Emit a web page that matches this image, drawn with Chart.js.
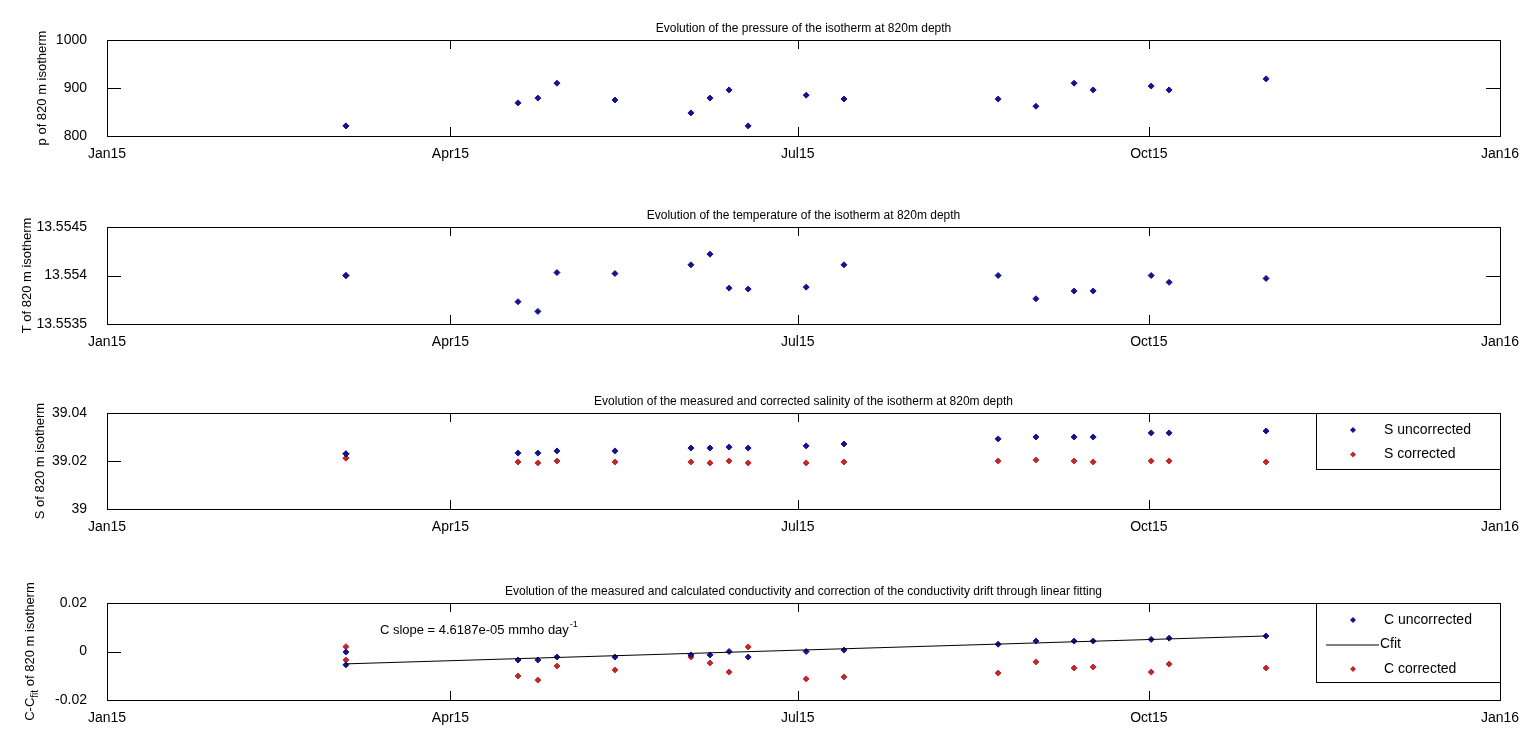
<!DOCTYPE html>
<html>
<head>
<meta charset="utf-8">
<script src="https://cdn.jsdelivr.net/npm/chart.js@4.4.0/dist/chart.umd.min.js"></script>
<style>
  body { margin: 0; background: #fff; width: 1536px; height: 745px; overflow: hidden; position: relative; }
  canvas { position: absolute; left: 0; }
</style>
</head>
<body>
<canvas id="c0"></canvas>
<canvas id="c1"></canvas>
<canvas id="c2"></canvas>
<canvas id="c3"></canvas>
<script>
'use strict';

// days since 1 Jan 2015 for each cast (first date sampled twice)
const days = [62.6, 62.6, 107.7, 112.9, 117.9, 133.1, 153.0, 158.0, 163.0, 168.0,
  183.2, 193.1, 233.5, 243.4, 253.4, 258.4, 273.6, 278.3, 303.7];

const xTickValues = [0, 90, 181, 273, 365];
const xTickLabels = ['Jan15', 'Apr15', 'Jul15', 'Oct15', 'Jan16'];

const pressure = [821, 821, 869, 879, 910, 875, 848, 879, 896, 821,
  885, 877, 877, 862, 910, 896, 904, 896, 919];

const temperature = [13.55400, 13.55400, 13.55373, 13.55363, 13.55403, 13.55402, 13.55411,
  13.55422, 13.55387, 13.55386, 13.55388, 13.55411, 13.55400, 13.55376, 13.55384,
  13.55384, 13.55400, 13.55393, 13.55397];

const salUncorrected = [39.0230, 39.0230, 39.0233, 39.0233, 39.0242, 39.0242, 39.0254, 39.0254,
  39.0258, 39.0254, 39.0263, 39.0271, 39.0292, 39.0300, 39.0300, 39.0300, 39.0317,
  39.0317, 39.0325];
const salCorrected = [39.0212, 39.0212, 39.0196, 39.0192, 39.0200, 39.0196, 39.0196, 39.0192,
  39.0200, 39.0192, 39.0192, 39.0196, 39.0200, 39.0204, 39.0200, 39.0196, 39.0200,
  39.0200, 39.0196];

const condUncorrected = [-0.0002, -0.0055, -0.0035, -0.0035, -0.0023, -0.0023, -0.0014, -0.0014,
  0.0000, -0.0023, 0.0000, 0.0006, 0.0030, 0.0043, 0.0043, 0.0043, 0.0050, 0.0055, 0.0064];
const condCorrected = [0.0020, -0.0035, -0.0101, -0.0118, -0.0060, -0.0076, -0.0023, -0.0047,
  -0.0085, 0.0019, -0.0113, -0.0105, -0.0089, -0.0043, -0.0068, -0.0064, -0.0085,
  -0.0052, -0.0068];
const fitDays = [62.6, 303.7];
const fitValues = [-0.0051, 0.0064];

const BLUE = '#14148c';
const RED = '#c0282c';
const FONT = '"Liberation Sans", Arial, sans-serif';

const panels = [
  { id: 'c0', plotTop: 40, plotH: 96, yTitleX: 42,
    title: 'Evolution of the pressure of the isotherm at 820m depth',
    yTitle: 'p of 820 m isotherm', yMin: 800, yMax: 1000,
    yTicks: [800, 900, 1000], yLabels: ['800', '900', '1000'],
    sets: [{ label: 'p', x: days, y: pressure, color: BLUE }], legend: false },
  { id: 'c1', plotTop: 227, plotH: 97, yTitleX: 27,
    title: 'Evolution of the temperature of the isotherm at 820m depth',
    yTitle: 'T of 820 m isotherm', yMin: 13.5535, yMax: 13.5545,
    yTicks: [13.5535, 13.554, 13.5545], yLabels: ['13.5535', '13.554', '13.5545'],
    sets: [{ label: 'T', x: days, y: temperature, color: BLUE }], legend: false },
  { id: 'c2', plotTop: 413, plotH: 96, yTitleX: 40,
    title: 'Evolution of the measured and corrected salinity of the isotherm at 820m depth',
    yTitle: 'S of 820 m isotherm', yMin: 39, yMax: 39.04,
    yTicks: [39, 39.02, 39.04], yLabels: ['39', '39.02', '39.04'],
    sets: [{ label: 'S uncorrected', x: days, y: salUncorrected, color: BLUE },
           { label: 'S corrected', x: days, y: salCorrected, color: RED }],
    legend: { h: 56 } },
  { id: 'c3', plotTop: 603, plotH: 97, yTitleX: 30,
    title: 'Evolution of the measured and calculated conductivity and correction of the conductivity drift through linear fitting',
    yTitle: 'C-C', yTitleSub: 'fit', yTitleRest: ' of 820 m isotherm', yMin: -0.02, yMax: 0.02,
    yTicks: [-0.02, 0, 0.02], yLabels: ['-0.02', '0', '0.02'],
    sets: [{ label: 'C uncorrected', x: days, y: condUncorrected, color: BLUE },
           { label: 'Cfit', x: fitDays, y: fitValues, color: '#000', line: true },
           { label: 'C corrected', x: days, y: condCorrected, color: RED }],
    legend: { h: 79 },
    note: { x: 71.5, y: 0.0085, text: 'C slope = 4.6187e-05 mmho day', sup: '-1' } }
];

const PAD_TOP = 40, AXIS_H = 46, LEFT = 107, RIGHT = 1500;

// MATLAB-style frame, inward ticks, titles, legend box and annotation
const matlabLook = {
  id: 'matlabLook',
  afterDraw(chart) {
    const p = chart.options.plugins.matlabLook.panel;
    const ctx = chart.ctx;
    const a = chart.chartArea;
    const xs = chart.scales.x, ys = chart.scales.y;
    ctx.save();
    ctx.strokeStyle = '#000';
    ctx.lineWidth = 1;
    ctx.strokeRect(Math.round(a.left) + 0.5, Math.round(a.top) + 0.5,
      Math.round(a.right - a.left), Math.round(a.bottom - a.top));
    ctx.beginPath();
    xTickValues.forEach(v => {
      const px = Math.round(xs.getPixelForValue(v)) + 0.5;
      ctx.moveTo(px, a.bottom); ctx.lineTo(px, a.bottom - 9);
      ctx.moveTo(px, a.top); ctx.lineTo(px, a.top + 9);
    });
    p.yTicks.forEach(v => {
      const py = Math.round(ys.getPixelForValue(v)) + 0.5;
      ctx.moveTo(a.left, py); ctx.lineTo(a.left + 14, py);
      ctx.moveTo(a.right, py); ctx.lineTo(a.right - 14, py);
    });
    ctx.stroke();

    ctx.fillStyle = '#000';
    ctx.font = '12px ' + FONT;
    ctx.textAlign = 'center';
    ctx.textBaseline = 'bottom';
    ctx.fillText(p.title, (a.left + a.right) / 2, a.top - 5);

    // y title, rotated
    ctx.save();
    ctx.translate(p.yTitleX, (a.top + a.bottom) / 2);
    ctx.rotate(-Math.PI / 2);
    ctx.font = '13px ' + FONT;
    ctx.textBaseline = 'middle';
    if (p.yTitleSub) {
      const w1 = ctx.measureText(p.yTitle).width;
      ctx.font = '10px ' + FONT;
      const w2 = ctx.measureText(p.yTitleSub).width;
      ctx.font = '13px ' + FONT;
      const w3 = ctx.measureText(p.yTitleRest).width;
      const x0 = -(w1 + w2 + w3) / 2;
      ctx.textAlign = 'left';
      ctx.fillText(p.yTitle, x0, 0);
      ctx.font = '10px ' + FONT;
      ctx.fillText(p.yTitleSub, x0 + w1, 5);
      ctx.font = '13px ' + FONT;
      ctx.fillText(p.yTitleRest, x0 + w1 + w2, 0);
    } else {
      ctx.textAlign = 'center';
      ctx.fillText(p.yTitle, 0, 0);
    }
    ctx.restore();

    if (p.note) {
      const nx = xs.getPixelForValue(p.note.x), ny = ys.getPixelForValue(p.note.y);
      ctx.font = '13px ' + FONT;
      ctx.textAlign = 'left';
      ctx.textBaseline = 'middle';
      ctx.fillText(p.note.text, nx, ny);
      const w = ctx.measureText(p.note.text).width;
      ctx.font = '9px ' + FONT;
      ctx.fillText(p.note.sup, nx + w + 1, ny - 6);
    }

    if (p.legend) {
      const lx = 1316, lw = a.right - lx, ly = a.top, lh = p.legend.h;
      ctx.fillStyle = '#fff';
      ctx.fillRect(lx, ly, lw, lh);
      ctx.strokeRect(lx + 0.5, ly + 0.5, lw, lh);
      ctx.textBaseline = 'middle';
      p.sets.forEach((s, i) => {
        const cy = ly + 17 + i * 24.5;
        if (s.line) {
          ctx.strokeStyle = '#000';
          ctx.beginPath(); ctx.moveTo(lx + 10, cy + 0.5); ctx.lineTo(lx + 63, cy + 0.5); ctx.stroke();
        } else {
          ctx.fillStyle = s.color;
          ctx.beginPath();
          ctx.moveTo(lx + 37, cy - 3); ctx.lineTo(lx + 40, cy);
          ctx.lineTo(lx + 37, cy + 3); ctx.lineTo(lx + 34, cy); ctx.closePath(); ctx.fill();
        }
        ctx.fillStyle = '#000';
        ctx.font = '14px ' + FONT;
        ctx.textAlign = 'left';
        ctx.fillText(s.label, s.line ? lx + 64 : lx + 68, cy);
      });
    }
    ctx.restore();
  }
};

panels.forEach(p => {
  const cv = document.getElementById(p.id);
  const h = PAD_TOP + p.plotH + AXIS_H;
  cv.style.top = (p.plotTop - PAD_TOP) + 'px';
  cv.style.width = '1536px';
  cv.style.height = h + 'px';
  cv.width = 1536; cv.height = h;

  const datasets = p.sets.map(s => ({
    label: s.label,
    data: s.x.map((d, i) => ({ x: d, y: s.y[i] })),
    showLine: !!s.line,
    borderColor: s.color,
    backgroundColor: s.color,
    borderWidth: 1,
    pointRadius: s.line ? 0 : 3,
    pointStyle: 'rectRot',
    order: s.line ? 0 : 1
  }));

  new Chart(cv, {
    type: 'scatter',
    data: { datasets },
    plugins: [matlabLook],
    options: {
      responsive: false,
      animation: false,
      events: [],
      layout: { padding: { top: PAD_TOP, right: 1536 - RIGHT, left: 0, bottom: 0 } },
      plugins: { legend: { display: false }, tooltip: { enabled: false },
        matlabLook: { panel: p } },
      scales: {
        x: {
          type: 'linear', min: 0, max: 365,
          afterBuildTicks: sc => { sc.ticks = xTickValues.map(v => ({ value: v })); },
          afterFit: sc => { sc.height = AXIS_H; },
          ticks: { autoSkip: false, maxRotation: 0, padding: 2, color: '#000',
            font: { family: FONT, size: 14 },
            callback: (v) => xTickLabels[xTickValues.indexOf(v)] },
          grid: { display: false }, border: { display: false }
        },
        y: {
          type: 'linear', min: p.yMin, max: p.yMax,
          afterBuildTicks: sc => { sc.ticks = p.yTicks.map(v => ({ value: v })); },
          afterFit: sc => { sc.width = LEFT; },
          ticks: { autoSkip: false, padding: 12, color: '#000',
            font: { family: FONT, size: 14 },
            callback: (v) => p.yLabels[p.yTicks.indexOf(v)] },
          grid: { display: false }, border: { display: false }
        }
      }
    }
  });
});
</script>
</body>
</html>
